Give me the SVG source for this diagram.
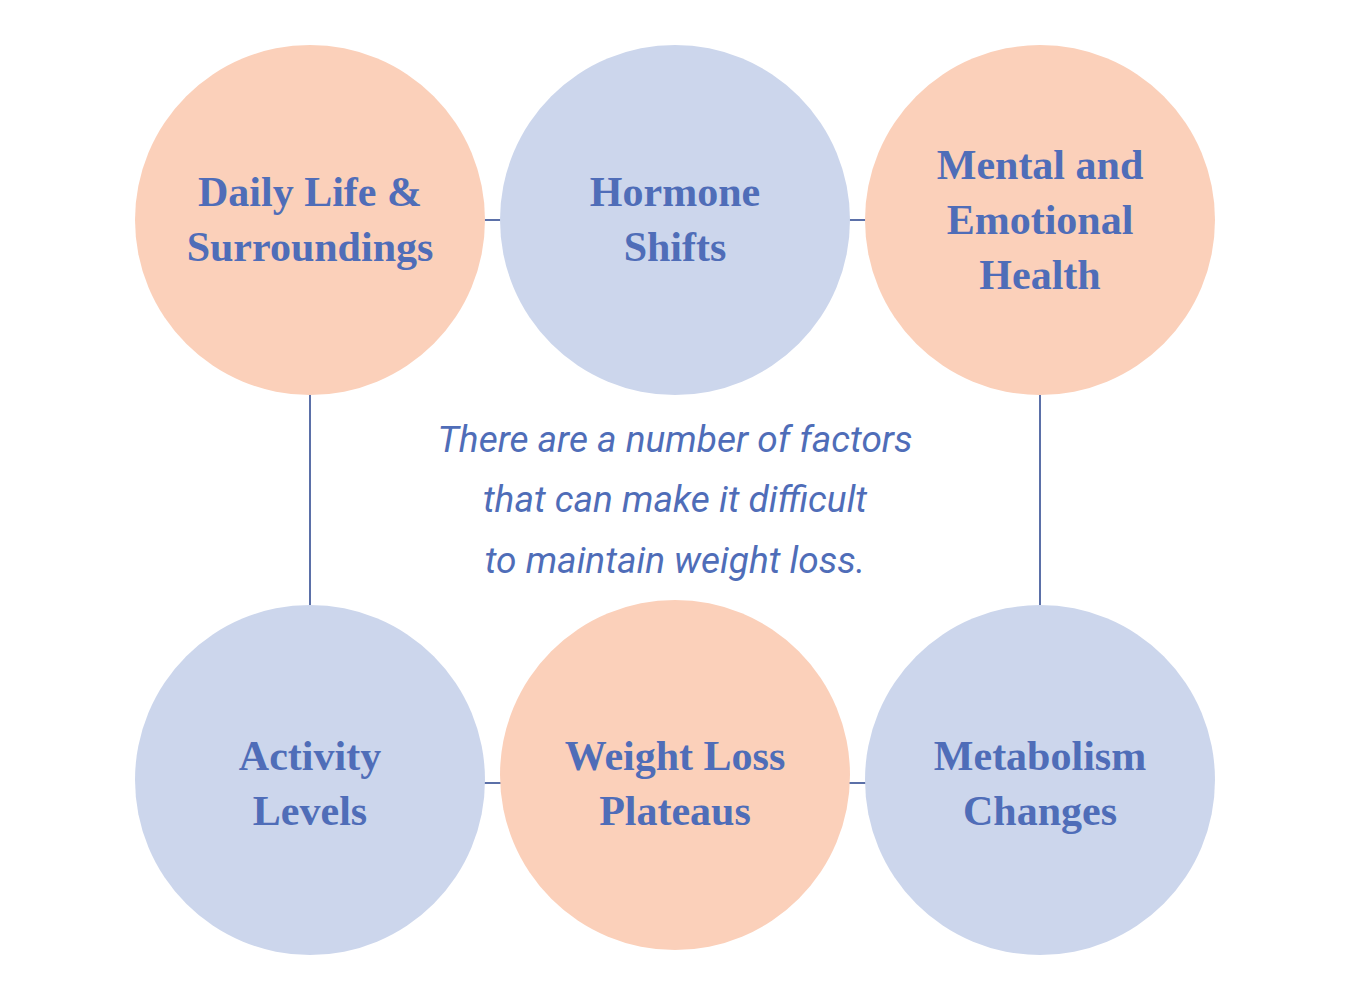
<svg xmlns="http://www.w3.org/2000/svg" width="1350" height="1000" viewBox="0 0 1350 1000">
<style>
.p{fill:#FBD0BA}.b{fill:#CCD6EC}
.t{font-family:"Liberation Serif",serif;font-weight:bold;font-size:42px;fill:#4F6DB8;text-anchor:middle}
.c{font-family:Roboto,"Liberation Sans",sans-serif;font-style:italic;font-size:37px;fill:#4F6DB8;text-anchor:middle}
.l{stroke:#5B70A8;stroke-width:2;fill:none}
</style>
<rect width="1350" height="1000" fill="#fff"/>
<g id="connectors">
<line class="l" x1="480" y1="220" x2="505" y2="220"/>
<line class="l" x1="845" y1="220" x2="870" y2="220"/>
<line class="l" x1="480" y1="783" x2="505" y2="783"/>
<line class="l" x1="845" y1="783" x2="870" y2="783"/>
<line class="l" x1="310" y1="393" x2="310" y2="608"/>
<line class="l" x1="1040" y1="393" x2="1040" y2="608"/>
</g>
<g id="n1"><circle class="p" cx="310" cy="220" r="175"/><text class="t" x="310" y="206">Daily Life &amp;</text><text class="t" x="310" y="261">Surroundings</text></g>
<g id="n2"><circle class="b" cx="675" cy="220" r="175"/><text class="t" x="675" y="206">Hormone</text><text class="t" x="675" y="261">Shifts</text></g>
<g id="n3"><circle class="p" cx="1040" cy="220" r="175"/><text class="t" x="1040" y="179">Mental and</text><text class="t" x="1040" y="234">Emotional</text><text class="t" x="1040" y="289">Health</text></g>
<g id="n4"><circle class="b" cx="310" cy="780" r="175"/><text class="t" x="310" y="770">Activity</text><text class="t" x="310" y="825">Levels</text></g>
<g id="n5"><circle class="p" cx="675" cy="775" r="175"/><text class="t" x="675" y="770">Weight Loss</text><text class="t" x="675" y="825">Plateaus</text></g>
<g id="n6"><circle class="b" cx="1040" cy="780" r="175"/><text class="t" x="1040" y="770">Metabolism</text><text class="t" x="1040" y="825">Changes</text></g>
<g id="center"><text class="c" x="675" y="452">There are a number of factors</text><text class="c" x="675" y="512">that can make it difficult</text><text class="c" x="675" y="573">to maintain weight loss.</text></g>
</svg>
